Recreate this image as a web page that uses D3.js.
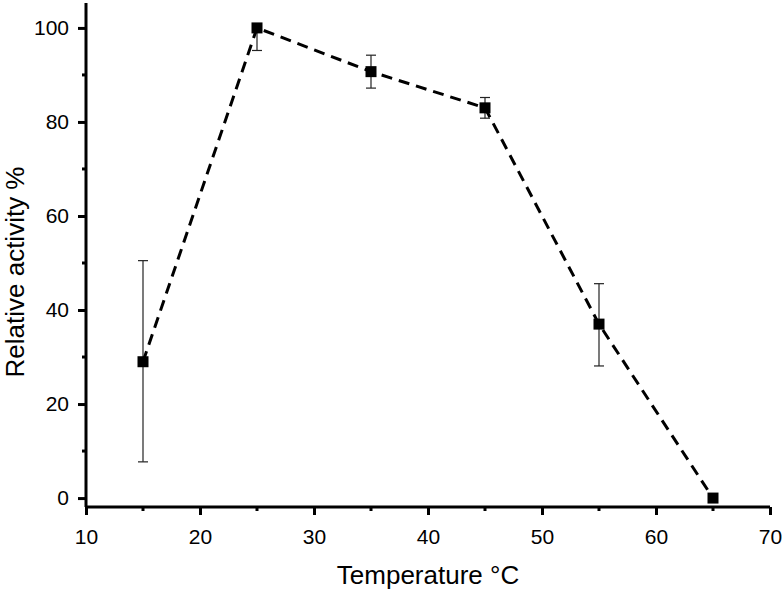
<!DOCTYPE html>
<html>
<head>
<meta charset="utf-8">
<script src="https://cdn.jsdelivr.net/npm/d3@7"></script>
<style>
  body { margin: 0; background: #fff; }
  text { font-family: "Liberation Sans", Arial, sans-serif; fill: #000; }
</style>
</head>
<body>
<svg id="chart" width="783" height="591"></svg>
<script>
// data
const temperature = [15, 25, 35, 45, 55, 65];
const activity = [29.0, 100.0, 90.7, 83.0, 37.0, 0.0];
const errLower = [21.3, 4.8, 3.5, 2.2, 8.9, 0];
const errUpper = [21.5, 0, 3.5, 2.2, 8.6, 0];
const xTicks = [10, 20, 30, 40, 50, 60, 70];
const yTicks = [0, 20, 40, 60, 80, 100];

const svg = d3.select("#chart");
const x = d3.scaleLinear().domain([10, 70]).range([86, 770]);
const y = d3.scaleLinear().domain([-1.9, 105.3]).range([507, 3]);

const xMinor = d3.range(15, 70, 10);
const yMinor = d3.range(10, 105, 20);

// axes
const xAxis = svg.append("g").attr("transform", `translate(0,${y(-1.9)})`);
xAxis.call(d3.axisBottom(x).tickValues(xTicks).tickSize(8).tickPadding(14).tickFormat(d3.format("d")));
xAxis.append("g").selectAll("line").data(xMinor).join("line")
  .attr("x1", d => x(d)).attr("x2", d => x(d)).attr("y1", 0).attr("y2", 4)
  .attr("stroke", "#000").attr("stroke-width", 3);

const yAxis = svg.append("g").attr("transform", `translate(${x(10)},0)`);
yAxis.call(d3.axisLeft(y).tickValues(yTicks).tickSize(8).tickPadding(9).tickFormat(d3.format("d")));
yAxis.append("g").selectAll("line").data(yMinor).join("line")
  .attr("y1", d => y(d)).attr("y2", d => y(d)).attr("x1", 0).attr("x2", -4)
  .attr("stroke", "#000").attr("stroke-width", 3);

[xAxis, yAxis].forEach(a => {
  a.select(".domain").attr("stroke", "#000").attr("stroke-width", 3);
  a.selectAll(".tick line").attr("stroke", "#000").attr("stroke-width", 3);
  a.selectAll(".tick text").attr("font-size", 21).attr("fill", "#000")
    .style("font-family", "'Liberation Sans', Arial, sans-serif");
});
// d3 axis draws the domain with end caps; strip the outer ticks
xAxis.select(".domain").attr("d", `M${x(10)},0H${x(70)}`);
yAxis.select(".domain").attr("d", `M0,${y(-1.9)}V${y(105.3)}`);

// axis titles
svg.append("text")
  .attr("x", 428).attr("y", 584)
  .attr("text-anchor", "middle").attr("font-size", 26)
  .text("Temperature °C");
svg.append("text")
  .attr("transform", "translate(24,272) rotate(-90)")
  .attr("text-anchor", "middle").attr("font-size", 26)
  .text("Relative activity %");

const pts = temperature.map((t, i) => ({ t, v: activity[i], lo: errLower[i], hi: errUpper[i] }));

// error bars
const eb = svg.append("g").attr("stroke", "#222").attr("stroke-width", 1.2);
pts.filter(d => d.lo > 0 || d.hi > 0).forEach(d => {
  const cx = x(d.t);
  eb.append("line").attr("x1", cx).attr("x2", cx)
    .attr("y1", y(d.v - d.lo)).attr("y2", y(d.v + d.hi));
  if (d.lo > 0) eb.append("line").attr("x1", cx - 5).attr("x2", cx + 5)
    .attr("y1", y(d.v - d.lo)).attr("y2", y(d.v - d.lo));
  if (d.hi > 0) eb.append("line").attr("x1", cx - 5).attr("x2", cx + 5)
    .attr("y1", y(d.v + d.hi)).attr("y2", y(d.v + d.hi));
});

// dashed line
svg.append("path").datum(pts)
  .attr("fill", "none").attr("stroke", "#000").attr("stroke-width", 3)
  .attr("stroke-dasharray", "11,7")
  .attr("d", d3.line().x(d => x(d.t)).y(d => y(d.v)));

// square markers
svg.append("g").selectAll("rect").data(pts).join("rect")
  .attr("x", d => x(d.t) - 5.5).attr("y", d => y(d.v) - 5.5)
  .attr("width", 11).attr("height", 11).attr("fill", "#000");
</script>
</body>
</html>
